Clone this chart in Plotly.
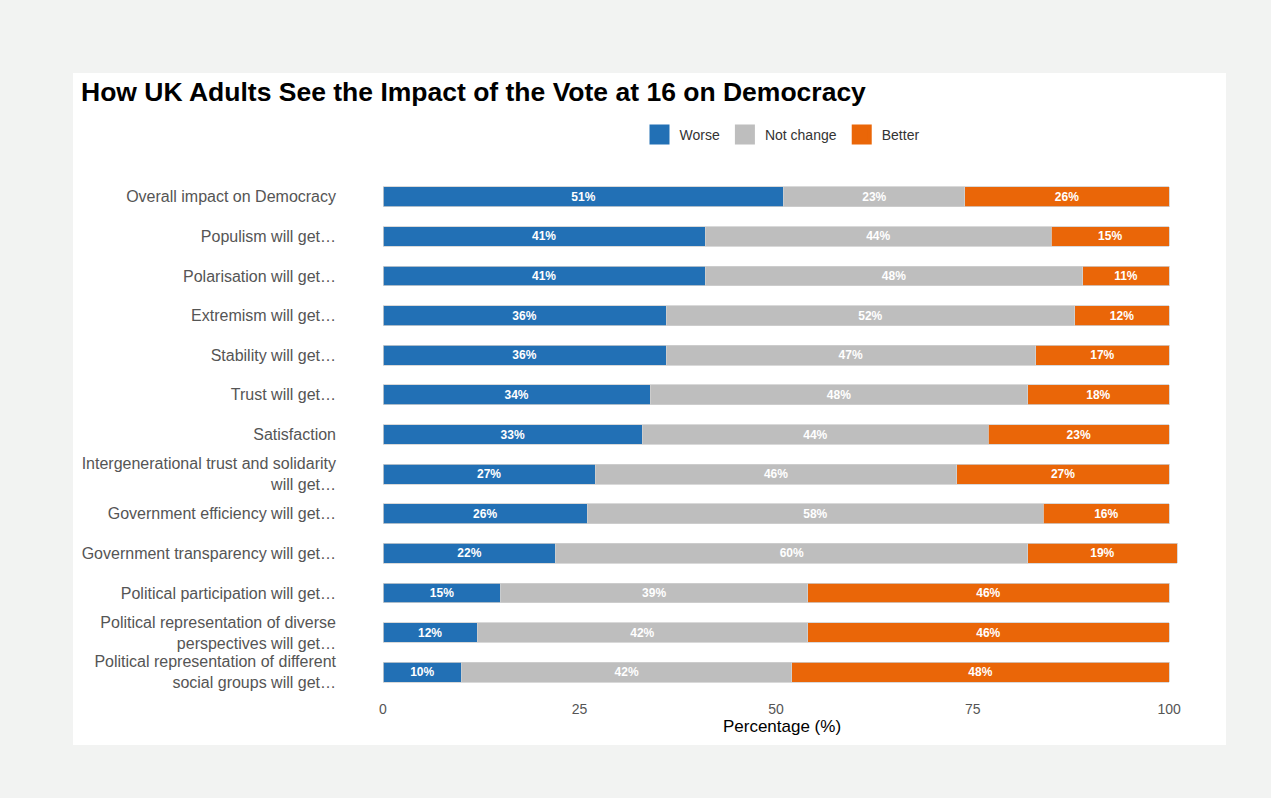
import plotly.graph_objects as go

categories = [
    "Overall impact on Democracy",
    "Populism will get…",
    "Polarisation will get…",
    "Extremism will get…",
    "Stability will get…",
    "Trust will get…",
    "Satisfaction",
    "Intergenerational trust and solidarity<br>will get…",
    "Government efficiency will get…",
    "Government transparency will get…",
    "Political participation will get…",
    "Political representation of diverse<br>perspectives will get…",
    "Political representation of different<br>social groups will get…",
]
worse = [51, 41, 41, 36, 36, 34, 33, 27, 26, 22, 15, 12, 10]
not_change = [23, 44, 48, 52, 47, 48, 44, 46, 58, 60, 39, 42, 42]
better = [26, 15, 11, 12, 17, 18, 23, 27, 16, 19, 46, 46, 48]

series = [
    ("Worse", worse, "#2270b5"),
    ("Not change", not_change, "#bebebe"),
    ("Better", better, "#ea6608"),
]

fig = go.Figure()
for name, vals, color in series:
    fig.add_trace(go.Bar(
        y=categories, x=vals, name=name, orientation="h",
        marker=dict(color=color, line=dict(color="#d0d0d0", width=0.8)),
        text=[f"{v}%" for v in vals], textposition="inside",
        insidetextanchor="middle", textangle=0, constraintext="none",
        textfont=dict(color="white", size=12, family="Liberation Sans, Arial, sans-serif", weight="bold"),
        width=0.5, showlegend=False,
        hoverinfo="skip",
    ))
# legend entries with larger square swatches
for name, vals, color in series:
    fig.add_trace(go.Scatter(
        x=[None], y=[None], mode="markers", name=name,
        marker=dict(symbol="square", size=16, color=color, line=dict(color=color, width=4)),
        showlegend=True, hoverinfo="skip",
    ))

fig.update_layout(
    barmode="stack",
    width=1271, height=798,
    paper_bgcolor="#f2f3f2",
    plot_bgcolor="white",
    margin=dict(l=383, r=90, t=177, b=106),
    font=dict(family="Liberation Sans, Arial, sans-serif"),
    title=dict(text="<b>How UK Adults See the Impact of the Vote at 16 on Democracy</b>",
               x=81/1271, xanchor="left", y=1-92/798, yanchor="middle",
               font=dict(size=26.5, color="black")),
    legend=dict(orientation="h", x=0.5, xanchor="center", xref="paper",
                y=1+(177-135)/515, yanchor="middle",
                font=dict(size=14, color="#333333"), traceorder="normal",
                itemsizing="trace", bgcolor="rgba(0,0,0,0)"),
    showlegend=True,
    shapes=[dict(type="rect", xref="paper", yref="paper", layer="below",
                 x0=(73-383)/798, x1=(1226-383)/798,
                 y0=(692-745)/515, y1=(692-73)/515,
                 fillcolor="white", line=dict(width=0))],
    bargap=0.5,
)
fig.update_xaxes(range=[0, 101.5], tickvals=[0, 25, 50, 75, 100], showgrid=False,
                 zeroline=False, showline=False, ticklabelstandoff=7,
                 tickfont=dict(size=14, color="#555555"),
                 title=dict(text="Percentage (%)", font=dict(size=17, color="black"), standoff=4))
fig.update_yaxes(categoryorder="array", categoryarray=categories[::-1], autorange=False,
                 range=[-0.5, 12.5], showgrid=False, zeroline=False, showline=False,
                 tickfont=dict(size=16, color="#555555"), ticklabelstandoff=46)

fig.write_html("out.html")
